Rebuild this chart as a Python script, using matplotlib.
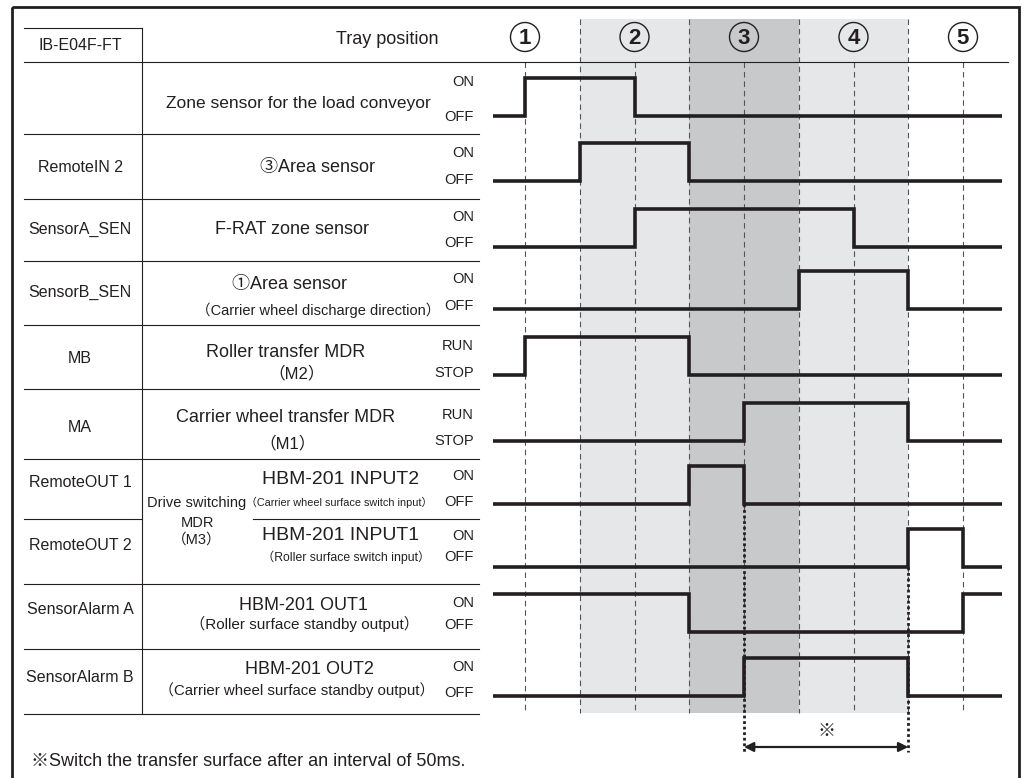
import matplotlib
matplotlib.use("Agg")
import matplotlib.pyplot as plt
from matplotlib.patches import Rectangle, Ellipse, FancyArrowPatch

plt.rcParams['font.family'] = ['Liberation Sans', 'Noto Sans CJK JP', 'DejaVu Sans']

INK = '#231f20'

# ---- data ----
tray_labels = ['1', '2', '3', '4', '5']
tray_steps = [0, 2, 4, 6, 8]
band_edges = [(1, 3), (3, 5), (5, 7)]
band_colors = ['#e6e7e8', '#c8c9ca', '#e6e7e8']

signal_ids = ['', 'RemoteIN 2', 'SensorA_SEN', 'SensorB_SEN', 'MB', 'MA',
              'RemoteOUT 1', 'RemoteOUT 2', 'SensorAlarm A', 'SensorAlarm B']
level_names = [('ON', 'OFF'), ('ON', 'OFF'), ('ON', 'OFF'), ('ON', 'OFF'),
               ('RUN', 'STOP'), ('RUN', 'STOP'), ('ON', 'OFF'), ('ON', 'OFF'),
               ('ON', 'OFF'), ('ON', 'OFF')]
start_state = [0, 0, 0, 0, 0, 0, 0, 0, 1, 0]
edge_steps = [[0, 2], [1, 3], [2, 6], [5, 7], [0, 3], [4, 7], [3, 4], [7, 8], [3, 8], [4, 7]]
t_begin, t_end = -0.58, 8.71
interval = (4, 7)   # RemoteOUT 1 off -> RemoteOUT 2 on

# ---- layout (pixels) ----
W, H = 1027, 778
GX0, GDX = 525, 54.75          # pixel x of step 0, pixels per step
row_high = [78, 143, 209, 271, 337, 403, 466, 529, 594, 658]
AMP = 37.5
row_lines = [134, 199, 261, 325, 389, 459, 584, 649, 714]

fig = plt.figure(figsize=(W / 100, H / 100), dpi=100)

# timing area
tax = fig.add_axes([480 / W, 0, (1019 - 480) / W, 1])
tax.set_xlim((480 - GX0) / GDX, (1019 - GX0) / GDX)
tax.set_ylim(H, 0)
tax.axis('off')

for (a, b), c in zip(band_edges, band_colors):
    tax.add_patch(Rectangle((a, 19), b - a, 694, fc=c, ec='none', zorder=0))

for k in range(9):
    top = 19 if k % 2 else 62
    tax.plot([k, k], [top, 713], color='#555555', lw=0.8, ls=(0, (5, 3.5)), zorder=1)

for lab, t in zip(tray_labels, tray_steps):
    tax.add_patch(Ellipse((t, 37), 29 / GDX, 29, fc='none', ec=INK, lw=1.0, zorder=3))
    tax.text(t, 38, lab, ha='center', va='center', fontsize=16, fontweight='bold', color=INK)

for i in range(len(signal_ids)):
    s = start_state[i]
    times = [t_begin]
    states = [s]
    for e in edge_steps[i]:
        s = 1 - s
        times.append(e)
        states.append(s)
    times.append(t_end)
    states.append(s)
    ys = [row_high[i] + (1 - v) * AMP for v in states]
    tax.step(times, ys, where='post', color=INK, lw=2.6, zorder=4,
             solid_joinstyle='miter', solid_capstyle='butt')

# dotted markers and interval arrow
tax.plot([interval[0]] * 2, [row_high[6] + AMP, 752], color=INK, lw=2, ls=(0, (1, 1)), zorder=5)
tax.plot([interval[1]] * 2, [row_high[7] + AMP, 752], color=INK, lw=2, ls=(0, (1, 1)), zorder=5)
tax.add_patch(FancyArrowPatch((interval[0], 747), (interval[1], 747), arrowstyle='<|-|>',
                              mutation_scale=14, lw=1.6, color=INK, shrinkA=0, shrinkB=0, zorder=5))
tax.text(sum(interval) / 2, 731, '※', ha='center', va='center', fontsize=13, color=INK)

# table / labels area
ax = fig.add_axes([0, 0, 1, 1])
ax.set_xlim(0, W)
ax.set_ylim(H, 0)
ax.axis('off')
ax.set_zorder(2)

ax.add_patch(Rectangle((12, 7), 1007, 820, fc='none', ec=INK, lw=2.0))
ax.plot([24, 142], [28, 28], color=INK, lw=0.8)
ax.plot([142, 142], [28, 714], color=INK, lw=0.8)
ax.plot([24, 1008], [62, 62], color=INK, lw=0.8)
for y in row_lines:
    ax.plot([24, 479], [y, y], color=INK, lw=0.8)
ax.plot([24, 142], [519, 519], color=INK, lw=0.8)
ax.plot([253, 479], [519, 519], color=INK, lw=0.8)

ax.text(80, 45, 'IB-E04F-FT', ha='center', va='center', fontsize=11.5, color=INK)
ax.text(387, 39, 'Tray position', ha='center', va='center', fontsize=13, color=INK)

id_y = [None, 167, 229, 292, 358, 427, 482, 546, 609, 677]
for name, y in zip(signal_ids, id_y):
    if name:
        ax.text(80, y, name, ha='center', va='center', fontsize=11.5, color=INK)

on_y = [82, 153, 217, 279, 346, 415, 476, 536, 603, 667]
off_y = [117, 180, 243, 306, 373, 441, 502, 557, 625, 693]
for (hi, lo), y1, y2 in zip(level_names, on_y, off_y):
    ax.text(474, y1, hi, ha='right', va='center', fontsize=10.5, color=INK)
    ax.text(474, y2, lo, ha='right', va='center', fontsize=10.5, color=INK)

mid_texts = [
    ('Zone sensor for the load conveyor', 298, 103, 12.5),
    ('③Area sensor', 317, 167, 13),
    ('F-RAT zone sensor', 292, 229, 13),
    ('①Area sensor', 290, 284, 13),
    ('（Carrier wheel discharge direction）', 318, 310, 10.5),
    ('Roller transfer MDR', 286, 352, 13),
    ('（M2）', 297, 373, 12),
    ('Carrier wheel transfer MDR', 286, 417, 13),
    ('（M1）', 288, 443, 12),
    ('Drive switching', 197, 503, 10.5),
    ('MDR', 197, 523, 10.5),
    ('（M3）', 197, 540, 10.5),
    ('HBM-201 INPUT2', 341, 479, 14),
    ('（Carrier wheel surface switch input）', 339, 502, 7.8),
    ('HBM-201 INPUT1', 341, 536, 14),
    ('（Roller surface switch input）', 346, 557, 8.8),
    ('HBM-201 OUT1', 303, 605, 13),
    ('（Roller surface standby output）', 304, 624, 11),
    ('HBM-201 OUT2', 309, 670, 13),
    ('（Carrier wheel surface standby output）', 297, 690, 10.8),
]
for txt, x, y, fs in mid_texts:
    ax.text(x, y, txt, ha='center', va='center', fontsize=fs, color=INK)

ax.text(31, 761, '※Switch the transfer surface after an interval of 50ms.',
        ha='left', va='center', fontsize=13, color=INK)

fig.savefig('out.png', dpi=100)
